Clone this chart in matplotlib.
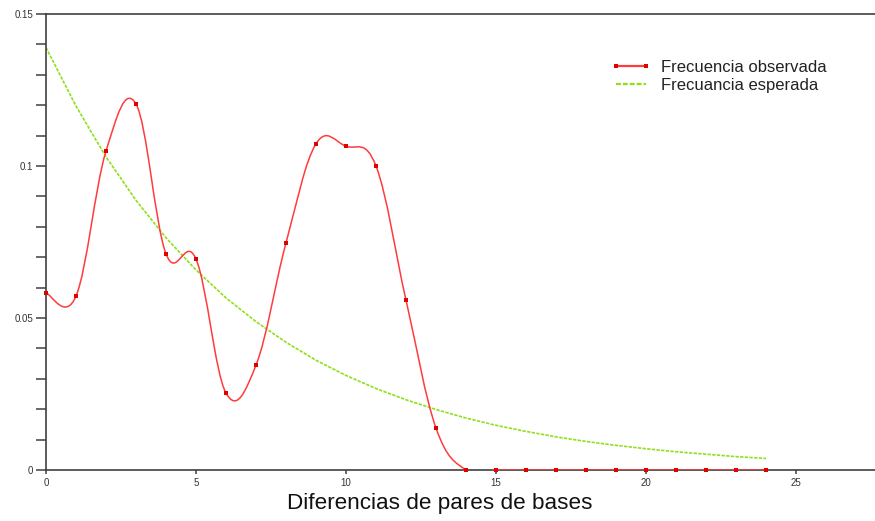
import numpy as np
import matplotlib
matplotlib.use("Agg")
import matplotlib.pyplot as plt
from matplotlib.path import Path
from matplotlib.patches import PathPatch
from matplotlib.lines import Line2D
from matplotlib.ticker import MultipleLocator

plt.rcParams['font.family'] = ['Liberation Sans', 'DejaVu Sans']

# pairwise differences
diffs = list(range(25))
observed = [0.0582, 0.0572, 0.1049, 0.1204, 0.0711, 0.0694, 0.0253, 0.0345,
            0.0747, 0.1073, 0.1065, 0.1000, 0.0559, 0.0138, 0, 0, 0, 0, 0,
            0, 0, 0, 0, 0, 0]
# expected frequency (green)
expected = [0.139, 0.1197, 0.1030, 0.0887, 0.0764, 0.0658, 0.0566, 0.0488,
            0.0420, 0.0361, 0.0311, 0.0268, 0.0231, 0.0199, 0.0171, 0.0147,
            0.0127, 0.0109, 0.0094, 0.0081, 0.0070, 0.0060, 0.0052, 0.0044,
            0.0038]

xlabel = "Diferencias de pares de bases"
label_obs = "Frecuencia observada"
label_exp = "Frecuancia esperada"

RED = "#ff3b3b"
RED_DOT = "#e00000"
GREEN = "#8fe01a"
AXC = "#404040"


def cardinal_path(xs, ys, tension=0.55):
    # smooth curve through the points, drawn as cubic bezier segments
    p = np.column_stack([xs, ys]).astype(float)
    n = len(p)
    k = tension / 3.0
    verts = [p[0]]
    codes = [Path.MOVETO]
    for i in range(n - 1):
        prev = p[i - 1] if i > 0 else p[i]
        nxt = p[i + 2] if i + 2 < n else p[i + 1]
        c1 = p[i] + k * (p[i + 1] - prev)
        c2 = p[i + 1] - k * (nxt - p[i])
        verts += [c1, c2, p[i + 1]]
        codes += [Path.CURVE4] * 3
    return Path(verts, codes)


fig = plt.figure(figsize=(8.75, 5.21), dpi=100)
ax = fig.add_axes([46 / 875, 51 / 521, 1 - 46 / 875, (470 - 14) / 521])

ax.plot(diffs, expected, color=GREEN, lw=1.2, dashes=(2.0, 0.8), zorder=2)
curve = PathPatch(cardinal_path(diffs, observed), fill=False, edgecolor=RED,
                  lw=1.1, zorder=3)
ax.add_patch(curve)
ax.plot(diffs, observed, ls="none", marker="s", ms=2.6, mew=0,
        color=RED_DOT, zorder=4, clip_on=False)

ax.set_xlim(0, (875 - 46) / 30)
ax.set_ylim(0, 0.15)

ax.xaxis.set_major_locator(MultipleLocator(5))
ax.yaxis.set_minor_locator(MultipleLocator(0.01))
ax.set_yticks([0, 0.05, 0.1, 0.15])
ax.set_yticklabels(["0", "0.05", "0.1", "0.15"])

ax.tick_params(axis="y", which="major", length=7.5, width=1.1, color=AXC,
               labelsize=7, labelcolor="#333333", pad=1.5)
ax.tick_params(axis="y", which="minor", length=7.0, width=1.1, color=AXC)
ax.tick_params(axis="x", which="major", length=3, width=1.1, color=AXC,
               labelsize=7, labelcolor="#333333", pad=3)

for s in ["left", "bottom", "top"]:
    ax.spines[s].set_color(AXC)
    ax.spines[s].set_linewidth(1.2)
ax.spines["right"].set_visible(False)

fig.text(440 / 875, 1 - 504 / 521, xlabel, fontsize=16.2, ha="center",
         va="center", color="#111111")

handles = [
    Line2D([], [], color=RED, lw=1.6, marker="s", ms=2.2, mew=0,
           markerfacecolor=RED_DOT),
    Line2D([], [], color=GREEN, lw=1.6, dashes=(2.2, 0.9)),
]
leg = ax.legend(handles, [label_obs, label_exp], frameon=False, fontsize=12,
                loc="upper left", bbox_to_anchor=(0.682, 0.899),
                numpoints=2, handlelength=2.4, handletextpad=0.55,
                labelspacing=0.18, borderaxespad=0, borderpad=0)
for t in leg.get_texts():
    t.set_color("#222222")

fig.savefig("out.png", dpi=100)
